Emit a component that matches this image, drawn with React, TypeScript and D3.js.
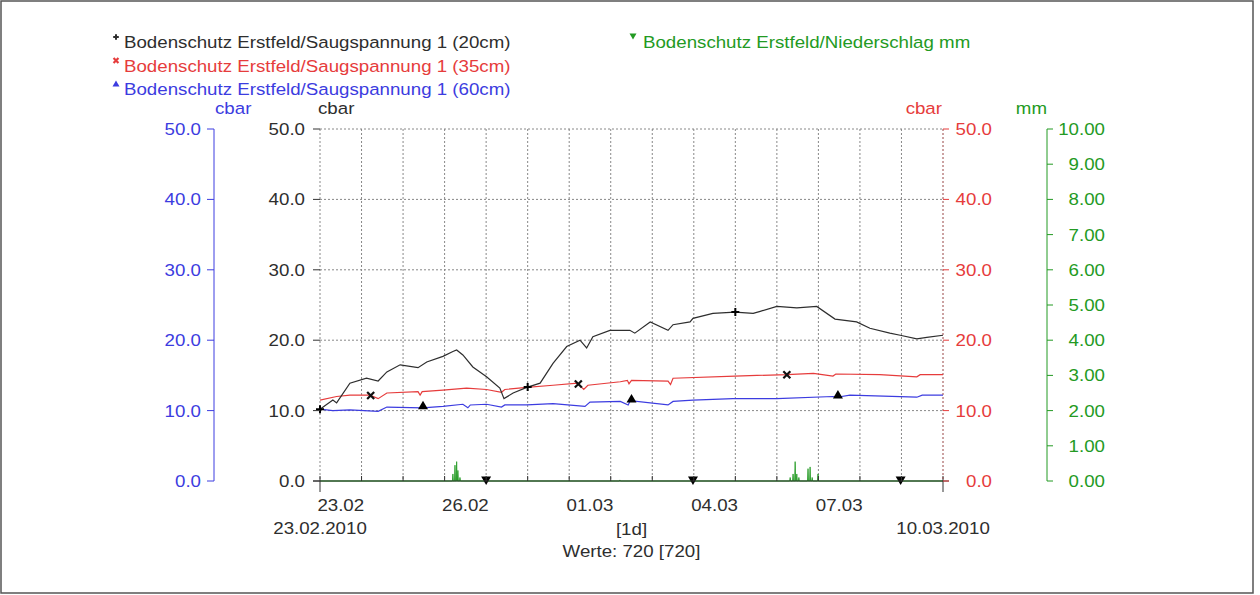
import * as d3 from "d3";

// Bodenschutz Erstfeld, 23.02.2010 - 10.03.2010 (day offsets from start)
const startDate = new Date(2010, 1, 23);
const endDate = new Date(2010, 2, 10);

const days20 = [0, 0.31, 0.4, 0.72, 1.12, 1.4, 1.61, 1.93, 2.36, 2.57, 2.96, 3.2, 3.29, 3.44, 3.68, 4.01, 4.33, 4.43, 4.65, 4.98, 5.3, 5.61, 5.94, 6.26, 6.42, 6.57, 6.98, 7.46, 7.58, 7.95, 8.38, 8.5, 8.91, 8.98, 9.46, 9.99, 10.43, 10.6, 11.0, 11.48, 11.96, 12.4, 12.92, 13.24, 13.72, 13.97, 14.37, 14.61, 15];
const vals20 = [10.2, 11.5, 11.1, 13.9, 14.6, 14.2, 15.5, 16.5, 16.1, 16.9, 17.7, 18.4, 18.6, 17.9, 16.2, 14.8, 13.2, 11.7, 12.5, 13.3, 13.9, 16.7, 19.1, 20.0, 18.9, 20.5, 21.4, 21.4, 21.0, 22.6, 21.4, 22.2, 22.6, 23.1, 23.8, 24.0, 23.8, 24.1, 24.8, 24.6, 24.8, 23.0, 22.6, 21.7, 21.0, 20.7, 20.2, 20.4, 20.7];

const days35 = [0, 0.4, 0.72, 1.2, 1.4, 1.61, 2.36, 2.41, 2.46, 2.96, 3.53, 4.01, 4.37, 4.45, 4.98, 5.61, 6.2, 6.35, 6.45, 7.23, 7.4, 7.44, 7.5, 8.38, 8.44, 8.5, 9.99, 10.52, 11.24, 11.88, 12.35, 12.42, 13.48, 14.37, 14.45, 15];
const vals35 = [11.5, 12.0, 12.2, 12.2, 11.7, 12.5, 12.7, 12.2, 12.7, 12.9, 13.2, 13.0, 12.6, 13.0, 13.3, 13.6, 13.9, 13.0, 13.6, 14.1, 14.3, 13.8, 14.3, 14.2, 13.7, 14.6, 14.9, 15.0, 15.1, 15.3, 14.9, 15.2, 15.1, 14.8, 15.1, 15.1];

const days60 = [0, 0.31, 0.72, 1.4, 1.61, 2.47, 2.96, 3.44, 3.56, 3.62, 4.01, 4.37, 4.45, 4.98, 5.61, 6.38, 6.5, 7.23, 7.42, 7.47, 8.38, 8.5, 8.98, 9.94, 11.0, 12.35, 12.45, 12.76, 14.37, 14.5, 15];
const vals60 = [10.2, 10.0, 10.1, 9.9, 10.5, 10.4, 10.6, 10.9, 10.4, 10.8, 10.9, 10.5, 10.8, 10.8, 11.0, 10.6, 11.2, 11.3, 10.8, 11.4, 10.8, 11.3, 11.5, 11.7, 11.7, 12.0, 11.9, 12.2, 11.9, 12.2, 12.2];

const rainDays = [3.2, 3.25, 3.29, 3.32, 3.37, 7.22, 11.32, 11.39, 11.44, 11.48, 11.53, 11.75, 11.8, 11.85, 11.99];
const rainMm = [0.2, 0.45, 0.55, 0.3, 0.1, 0.03, 0.1, 0.2, 0.55, 0.2, 0.1, 0.35, 0.4, 0.1, 0.2];

const markDays20 = [0, 5, 10];
const markDays35 = [1.22, 6.22, 11.24];
const markDays60 = [2.48, 7.5, 12.47];
const markDaysRain = [4, 8.98, 13.98];

const legendLeft = [
  "Bodenschutz Erstfeld/Saugspannung 1 (20cm)",
  "Bodenschutz Erstfeld/Saugspannung 1 (35cm)",
  "Bodenschutz Erstfeld/Saugspannung 1 (60cm)",
];
const legendRain = "Bodenschutz Erstfeld/Niederschlag mm";

const C_BLACK = "#2e2e2e";
const C_RED = "#e63c3c";
const C_BLUE = "#3c3ce0";
const C_GREEN = "#239a23";
const FONT = "'Liberation Sans', Arial, sans-serif";

const toDate = (d: number) => new Date(startDate.getTime() + d * 86400000);

function interp(days: number[], vals: number[], d: number) {
  const i = Math.max(1, d3.bisectLeft(days, d));
  if (i >= days.length) return vals[vals.length - 1];
  const t = (d - days[i - 1]) / (days[i] - days[i - 1]);
  return vals[i - 1] + (vals[i] - vals[i - 1]) * Math.max(0, Math.min(1, t));
}

function Txt({ x, y, anchor = "start", fill = C_BLACK, children }: any) {
  return (
    <text
      transform={`translate(${x},${y}) scale(1.1,1)`}
      textAnchor={anchor}
      fill={fill}
      fontSize={17}
      fontFamily={FONT}
    >
      {children}
    </text>
  );
}

function Mark({ type, x, y, color, s = 1 }: any) {
  if (type === "plus")
    return (
      <path d={`M${x - 4 * s},${y}H${x + 4 * s}M${x},${y - 4 * s}V${y + 4 * s}`} stroke={color} strokeWidth={2} />
    );
  if (type === "cross")
    return (
      <path d={`M${x - 3.5 * s},${y - 3.5 * s}L${x + 3.5 * s},${y + 3.5 * s}M${x - 3.5 * s},${y + 3.5 * s}L${x + 3.5 * s},${y - 3.5 * s}`} stroke={color} strokeWidth={2.2} />
    );
  if (type === "up")
    return <path d={`M${x},${y - 5 * s}L${x + 5 * s},${y + 3.5 * s}L${x - 5 * s},${y + 3.5 * s}Z`} fill={color} />;
  return <path d={`M${x},${y + 5 * s}L${x + 5 * s},${y - 3.5 * s}L${x - 5 * s},${y - 3.5 * s}Z`} fill={color} />;
}

export default function App() {
  const width = 1260;
  const height = 595;
  const left = 320;
  const right = 943;
  const top = 129;
  const bottom = 481;

  const x = d3.scaleTime().domain([startDate, endDate]).range([left, right]);
  const yC = d3.scaleLinear().domain([0, 50]).range([bottom, top]);
  const yMm = d3.scaleLinear().domain([0, 10]).range([bottom, top]);

  const line = (days: number[], vals: number[]) =>
    d3
      .line<number>()
      .x((d) => x(toDate(d)))
      .y((_, i) => yC(vals[i]))(days) || "";

  const rainPts: [number, number][] = [[0, 0]];
  rainDays.forEach((d, i) => {
    rainPts.push([d - 0.012, 0], [d, rainMm[i]], [d + 0.012, 0]);
  });
  rainPts.push([15, 0]);
  const rainArea =
    d3
      .area<[number, number]>()
      .x((d) => x(toDate(d[0])))
      .y0(bottom)
      .y1((d) => yMm(d[1]))(rainPts) || "";

  const cTicks = yC.ticks(5);
  const mmTicks = yMm.ticks(10);
  const dayTicks = d3.timeDay.range(startDate, d3.timeDay.offset(endDate, 1));
  const labelDays = d3.range(0, 15, 3).map((i) => d3.timeDay.offset(startDate, i));
  const fmtDay = d3.timeFormat("%d.%m");
  const fmtFull = d3.timeFormat("%d.%m.%Y");
  const fmt1 = d3.format(".1f");
  const fmt2 = d3.format(".2f");
  const mid = (left + right) / 2;

  return (
    <svg
      width={width}
      height={height}
      style={{ position: "absolute", left: 0, top: 0, background: "#fff" }}
    >
      <rect x={1} y={1} width={1252} height={592} fill="none" stroke="#555" strokeWidth={1.5} />

      {/* legend */}
      {legendLeft.map((t, i) => (
        <g key={t}>
          <Mark
            type={["plus", "cross", "up"][i]}
            x={116}
            y={37 + i * 23.5}
            color={[C_BLACK, C_RED, C_BLUE][i]}
            s={0.7}
          />
          <Txt x={124} y={48 + i * 23.5} fill={[C_BLACK, C_RED, C_BLUE][i]}>
            {t}
          </Txt>
        </g>
      ))}
      <Mark type="down" x={633} y={36} color={C_GREEN} s={0.7} />
      <Txt x={643} y={48} fill={C_GREEN}>
        {legendRain}
      </Txt>

      {/* grid */}
      {cTicks.filter((t) => t > 0).map((t) => (
        <line key={"h" + t} x1={left} x2={right} y1={yC(t)} y2={yC(t)} stroke="#888" strokeDasharray="2,2" />
      ))}
      {dayTicks.map((d) => (
        <line key={"v" + d.getTime()} x1={x(d)} x2={x(d)} y1={top} y2={bottom} stroke="#888" strokeDasharray="2,2" />
      ))}

      {/* precipitation */}
      <path d={rainArea} fill={C_GREEN} stroke={C_GREEN} strokeWidth={0.8} />

      {/* series */}
      <path d={line(days60, vals60)} fill="none" stroke={C_BLUE} strokeWidth={1.2} />
      <path d={line(days35, vals35)} fill="none" stroke={C_RED} strokeWidth={1.2} />
      <path d={line(days20, vals20)} fill="none" stroke={C_BLACK} strokeWidth={1.2} />

      {/* markers */}
      {markDays20.map((d) => (
        <Mark key={"m20" + d} type="plus" x={x(toDate(d))} y={yC(interp(days20, vals20, d))} color="#000" />
      ))}
      {markDays35.map((d) => (
        <Mark key={"m35" + d} type="cross" x={x(toDate(d))} y={yC(interp(days35, vals35, d))} color="#111" />
      ))}
      {markDays60.map((d) => (
        <Mark key={"m60" + d} type="up" x={x(toDate(d))} y={yC(interp(days60, vals60, d)) - 2} color="#000" />
      ))}
      {markDaysRain.map((d) => (
        <Mark key={"mr" + d} type="down" x={x(toDate(d))} y={bottom - 1} color="#000" />
      ))}

      {/* x axis */}
      <line x1={left - 7} x2={right + 6} y1={bottom} y2={bottom} stroke="#333" strokeWidth={1.2} />
      {dayTicks.map((d) => (
        <line key={"xt" + d.getTime()} x1={x(d)} x2={x(d)} y1={bottom - 5} y2={bottom} stroke="#333" />
      ))}
      <line x1={left} x2={left} y1={bottom} y2={bottom + 11} stroke="#333" />
      <line x1={right} x2={right} y1={bottom} y2={bottom + 11} stroke="#333" />
      {labelDays.map((d) => (
        <Txt key={"xl" + d.getTime()} x={x(d3.timeHour.offset(d, 12))} y={511} anchor="middle">
          {fmtDay(d)}
        </Txt>
      ))}
      <Txt x={left} y={534} anchor="middle">{fmtFull(startDate)}</Txt>
      <Txt x={right} y={534} anchor="middle">{fmtFull(endDate)}</Txt>
      <Txt x={mid} y={535} anchor="middle">[1d]</Txt>
      <Txt x={mid} y={557} anchor="middle">Werte: 720 [720]</Txt>

      {/* blue axis (60cm) */}
      <line x1={214} x2={214} y1={top} y2={bottom} stroke={C_BLUE} />
      {cTicks.map((t) => (
        <g key={"b" + t}>
          <line x1={207} x2={214} y1={yC(t)} y2={yC(t)} stroke={C_BLUE} />
          <Txt x={201} y={yC(t) + 6} anchor="end" fill={C_BLUE}>{fmt1(t)}</Txt>
        </g>
      ))}
      <Txt x={215} y={114} fill={C_BLUE}>cbar</Txt>

      {/* black axis (20cm) */}
      {cTicks.map((t) => (
        <g key={"k" + t}>
          <line x1={313} x2={left} y1={yC(t)} y2={yC(t)} stroke="#333" />
          <Txt x={305} y={yC(t) + 6} anchor="end">{fmt1(t)}</Txt>
        </g>
      ))}
      <Txt x={318} y={114}>cbar</Txt>

      {/* red axis (35cm) */}
      <line x1={right} x2={right} y1={top} y2={bottom} stroke={C_RED} strokeOpacity={0.5} strokeDasharray="2,2" />
      {cTicks.map((t) => (
        <g key={"r" + t}>
          <line x1={right} x2={right + 6} y1={yC(t)} y2={yC(t)} stroke={C_RED} />
          <Txt x={992} y={yC(t) + 6} anchor="end" fill={C_RED}>{fmt1(t)}</Txt>
        </g>
      ))}
      <Txt x={942} y={114} anchor="end" fill={C_RED}>cbar</Txt>

      {/* green axis (mm) */}
      <line x1={1047} x2={1047} y1={top} y2={bottom} stroke={C_GREEN} />
      {mmTicks.map((t) => (
        <g key={"g" + t}>
          <line x1={1047} x2={1053} y1={yMm(t)} y2={yMm(t)} stroke={C_GREEN} />
          <Txt x={1105} y={yMm(t) + 6} anchor="end" fill={C_GREEN}>{fmt2(t)}</Txt>
        </g>
      ))}
      <Txt x={1047} y={114} anchor="end" fill={C_GREEN}>mm</Txt>
    </svg>
  );
}
